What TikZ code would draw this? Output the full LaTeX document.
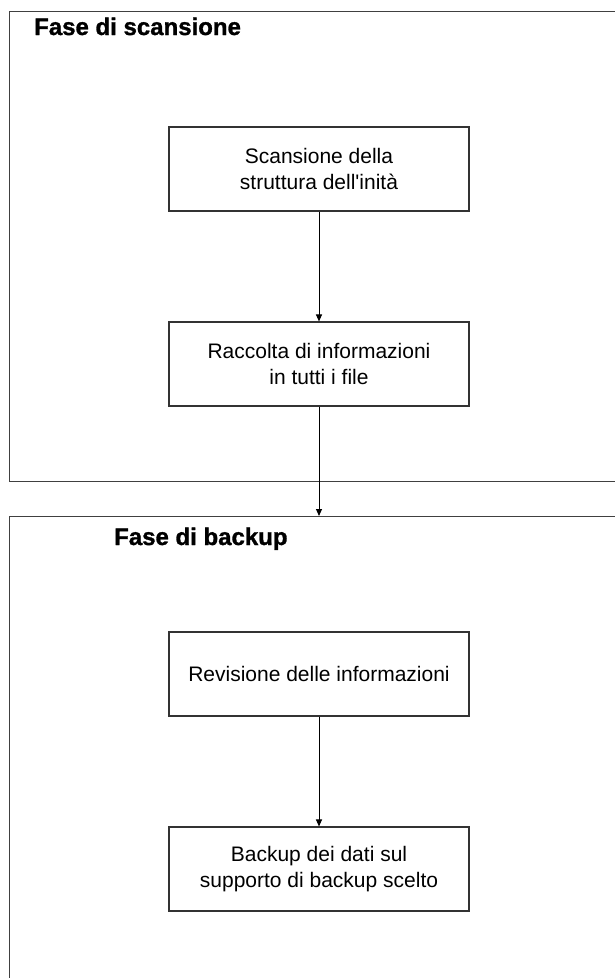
\documentclass[tikz,border=0pt]{standalone}
\usepackage{fontspec}
\setmainfont{Liberation Sans}
\newfontfamily\phasefont[FakeBold=1.2]{Liberation Sans Bold}
\usetikzlibrary{arrows.meta}

\begin{document}
\begin{tikzpicture}[x=1pt,y=-1pt,>={Triangle[length=7pt,width=6pt]},
  phase/.style={draw=black!75,line width=1.3pt,anchor=north west,inner sep=0pt},
  stepbox/.style={draw=black!80,line width=1.1pt,minimum width=300pt,minimum height=84pt,
    align=center,font=\fontsize{21}{26}\selectfont},
  title/.style={anchor=base west,inner sep=0pt,font=\fontsize{24}{28}\phasefont}]

  \useasboundingbox (0,0) rectangle (615,978);

  % the two phases
  \node[phase,minimum width=620pt,minimum height=470pt] (scan) at (9,11) {};
  \node[phase,minimum width=620pt,minimum height=480pt] (bkp) at (9,516) {};

  \node[title] (tscan) at (34,35) {Fase di scansione};
  \node[title] (tbkp) at (114,545) {Fase di backup};

  % steps
  \node[stepbox] (s1) at (319,169) {Scansione della\\struttura dell\textquotesingle inità};
  \node[stepbox] (s2) at (319,364) {Raccolta di informazioni\\in tutti i file};
  \node[stepbox] (s3) at (319,674) {Revisione delle informazioni};
  \node[stepbox] (s4) at (319,869) {Backup dei dati sul\\supporto di backup scelto};

  \draw[->,line width=1pt] (s1) -- (s2);
  \draw[->,line width=1pt] (s2) -- (s2 |- bkp.north);
  \draw[->,line width=1pt] (s3) -- (s4);
\end{tikzpicture}
\end{document}
